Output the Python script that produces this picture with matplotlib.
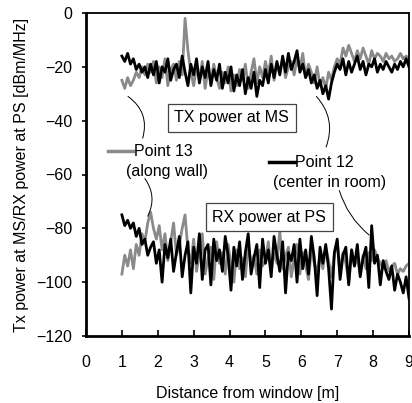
import matplotlib
matplotlib.use('Agg')
import matplotlib.pyplot as plt
import numpy as np

plt.rcParams['font.family'] = ['Liberation Sans', 'DejaVu Sans']

# distance grid (m)
distance = np.linspace(1.0, 9.0, 101)

# TX power at MS
tx_p12 = [
    -16, -18, -15, -19, -17, -21, -19, -22, -20, -24,
    -19, -23, -18, -26, -20, -22, -17, -25, -21, -19,
    -24, -16, -22, -27, -19, -23, -17, -26, -20, -24,
    -18, -27, -21, -25, -19, -28, -22, -26, -20, -29,
    -23, -27, -21, -30, -24, -28, -22, -31, -25, -27,
    -21, -26, -19, -24, -18, -23, -16, -22, -15, -21,
    -18, -14, -22, -19, -24, -21, -26, -23, -28, -25,
    -30, -27, -32, -26, -22, -19, -21, -17, -23, -18,
    -22, -19, -16, -21, -18, -23, -19, -20, -17, -22,
    -19, -21, -18, -20, -22, -19, -21, -18, -20, -17,
    -20]
tx_p13 = [
    -25, -28, -24, -27, -25, -22, -24, -20, -23, -19,
    -22, -18, -26, -20, -24, -17, -27, -21, -19, -25,
    -18, -23, -2, -14, -22, -27, -20, -25, -18, -28,
    -21, -26, -19, -24, -28, -22, -26, -20, -29, -23,
    -27, -21, -25, -19, -28, -22, -17, -26, -20, -24,
    -18, -23, -16, -25, -19, -22, -17, -24, -20, -18,
    -23, -17, -21, -15, -24, -19, -22, -26, -20, -27,
    -24, -28, -22, -25, -20, -17, -19, -13, -16, -12,
    -15, -18, -14, -17, -13, -16, -19, -14, -17, -15,
    -16, -18, -15, -17, -16, -18, -17, -15, -17, -16,
    -17]

# RX power at PS
rx_p12 = [
    -75, -79, -77, -80, -78, -83, -80, -86, -84, -90,
    -87, -85, -93, -88, -100, -86, -91, -84, -96, -89,
    -83, -98, -90, -85, -104, -87, -93, -82, -99, -88,
    -86, -101, -84, -92, -88, -96, -83, -90, -103, -87,
    -94, -85, -99, -89, -82, -97, -91, -86, -102, -84,
    -93, -88, -98, -83, -90, -96, -85, -104, -89, -92,
    -86, -100, -84, -95, -88, -97, -83, -91, -105, -87,
    -93, -86, -95, -110, -89, -84, -99, -90, -87, -101,
    -88, -94, -86, -98, -91, -87, -102, -79, -93, -90,
    -101, -92, -96, -99, -94, -103, -97, -100, -104, -98,
    -106]
rx_p13 = [
    -97, -90, -94, -88, -95, -86, -90, -82, -85, -78,
    -74, -80, -84, -79, -88, -82, -92, -85, -78, -90,
    -86, -80, -75, -88, -93, -84, -96, -89, -82, -97,
    -91, -87, -99, -85, -93, -89, -97, -86, -94, -100,
    -88, -95, -91, -98, -86, -93, -90, -97, -88, -94,
    -92, -85, -96, -89, -93, -81, -95, -90, -87, -98,
    -91, -86, -97, -89, -94, -99, -88, -93, -96, -90,
    -95, -87, -92, -98, -90, -85, -96, -89, -93, -100,
    -88, -94, -91, -97, -90, -95, -89, -92, -88, -91,
    -93, -95, -92, -96, -94, -93, -97, -95, -96, -94,
    -93]

x_ticks = [0, 1, 2, 3, 4, 5, 6, 7, 8, 9]
y_ticks = [0, -20, -40, -60, -80, -100, -120]

GRAY = '#8a8a8a'
FS = 11.5

fig = plt.figure(figsize=(4.12, 4.03), dpi=100)
ax = fig.add_axes([86 / 412, 67 / 403, 323 / 412, 323 / 403])

ax.plot(distance, tx_p13, color=GRAY, lw=2.0)
ax.plot(distance, rx_p13, color=GRAY, lw=2.0)
ax.plot(distance, tx_p12, color='black', lw=2.0)
ax.plot(distance, rx_p12, color='black', lw=2.0)

ax.set_xlim(0, 9)
ax.set_ylim(-120, 0)
ax.set_xticks(x_ticks)
ax.set_yticks(y_ticks)
ax.tick_params(axis='x', direction='in', length=4, width=1.2, pad=14, labelsize=FS)
ax.tick_params(axis='y', direction='out', length=3, width=1.2, pad=7, labelsize=FS)
for s in ax.spines.values():
    s.set_linewidth(1.3)
ax.spines['left'].set_linewidth(2)
ax.spines['bottom'].set_linewidth(2)

ax.set_xlabel('Distance from window [m]', fontsize=FS, labelpad=11)
ax.set_ylabel('Tx power at MS/RX power at PS [dBm/MHz]', fontsize=FS, labelpad=5)

box = dict(boxstyle='square,pad=0.4', fc='white', ec='#444444', lw=0.9)
ax.text(4.06, -39, 'TX power at MS', ha='center', va='center', fontsize=FS, bbox=box)
ax.text(5.11, -75.8, 'RX power at PS', ha='center', va='center', fontsize=FS, bbox=box)

# legend-like labels
ax.plot([0.61, 1.31], [-51.3, -51.3], color=GRAY, lw=2.5, clip_on=False)
ax.text(1.33, -51.3, 'Point 13', ha='left', va='center', fontsize=FS)
ax.text(2.25, -58.8, '(along wall)', ha='center', va='center', fontsize=FS)
ax.plot([5.11, 5.81], [-55.4, -55.4], color='black', lw=2.5)
ax.text(5.83, -55.4, 'Point 12', ha='left', va='center', fontsize=FS)
ax.text(6.78, -62.9, '(center in room)', ha='center', va='center', fontsize=FS)

# leader lines
leaders = [((1.17, -31.0), (1.58, -46.5), -0.35),
           ((6.42, -31.0), (6.69, -49.8), -0.3),
           ((1.64, -61.5), (1.72, -75.5), -0.3),
           ((7.06, -66.0), (7.89, -82.5), 0.15)]
for (x0, y0), (x1, y1), rad in leaders:
    ax.annotate('', xy=(x1, y1), xytext=(x0, y0),
                arrowprops=dict(arrowstyle='-', color='black', lw=0.7,
                                connectionstyle='arc3,rad=%s' % rad,
                                shrinkA=0, shrinkB=0))

fig.savefig('out.png', dpi=100)
